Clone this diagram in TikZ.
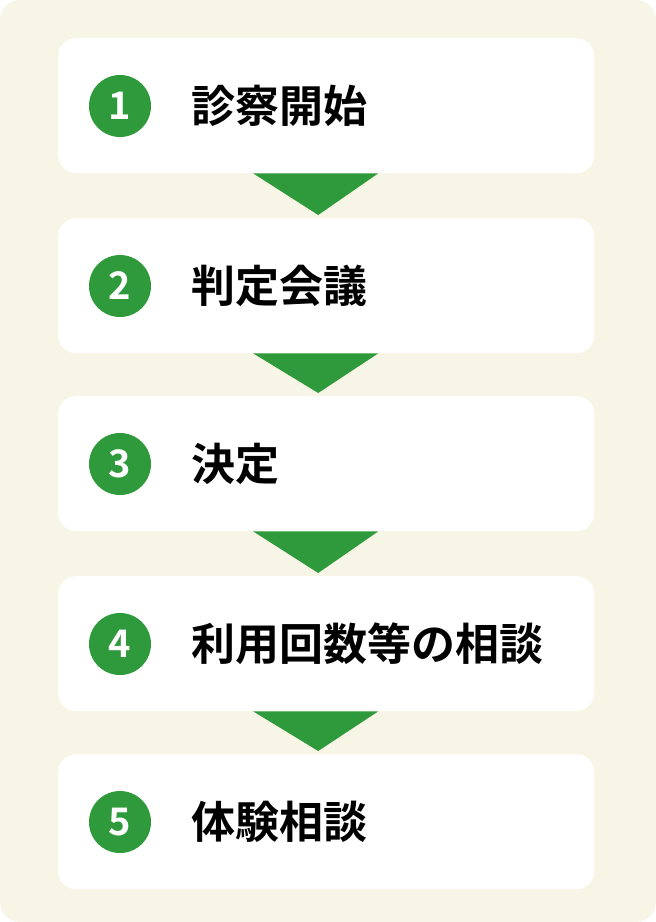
\documentclass[tikz,border=0pt]{standalone}
\usepackage{fontspec}
\newfontfamily\cjk{Noto Sans CJK JP Bold}
\definecolor{cream}{HTML}{F7F6E6}
\definecolor{leaf}{HTML}{2F9A3B}
\begin{document}
\begin{tikzpicture}[x=1pt,y=-1pt,
  stepbox/.style={fill=white,draw=none,rounded corners=18pt,minimum width=536pt,minimum height=135pt,inner sep=0pt,anchor=north west},
  numdot/.style={circle,fill=leaf,minimum size=62pt,inner sep=0pt,text=white,font=\cjk\fontsize{38}{38}\selectfont},
  label/.style={anchor=west,inner sep=0pt,font=\cjk\fontsize{44}{44}\selectfont,text=black},
  arrowtri/.style={fill=leaf,draw=none}]
\useasboundingbox (0,0) rectangle (656,922);
\fill[cream,rounded corners=20pt] (0,0) rectangle (656,922);
\foreach \i/\y/\t in {1/38/診察開始,2/218/判定会議,3/396/決定,4/576/利用回数等の相談,5/754/体験相談}{
  \node[stepbox] (b\i) at (58,\y) {};
  \node[numdot] (n\i) at (120,\y+68) {\i};
  \node[label] (t\i) at (191,\y+68) {\t};
}
\foreach \a/\b in {1/2,2/3,3/4,4/5}{
  \fill[arrowtri] ([xshift=-10pt]b\a.south) -- ++(-63,0) coordinate (l\a) -- ([xshift=-8pt,yshift=3pt]b\b.north) -- ([xshift=52pt]b\a.south) -- cycle;
}
\end{tikzpicture}
\end{document}
